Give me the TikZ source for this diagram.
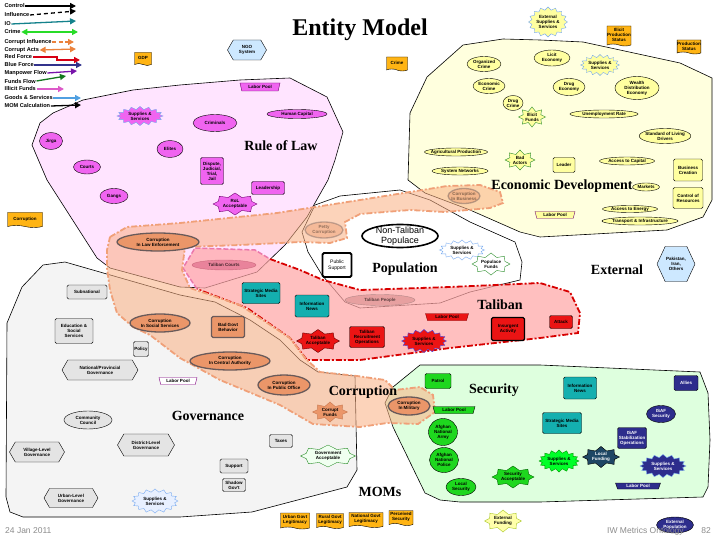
\documentclass[tikz,border=0pt]{standalone}
\usepackage{fontspec}
\setmainfont{Liberation Serif}
\newfontfamily\sansfam{Liberation Sans}
\usetikzlibrary{shapes.geometric,shapes.symbols,shapes.misc,arrows.meta}
\newcommand\nodefnt{\sansfam\bfseries\fontsize{4.5}{5}\selectfont}
\newcommand\legfnt{\sansfam\bfseries\fontsize{5.6}{6}\selectfont}
\newcommand\titfnt{\rmfamily\bfseries\fontsize{14}{16}\selectfont}
\definecolor{rolfill}{RGB}{255,228,255}
\definecolor{rolnode}{RGB}{240,100,240}
\definecolor{rolbd}{RGB}{110,0,110}
\definecolor{ecofill}{RGB}{255,255,222}
\definecolor{econode}{RGB}{255,255,160}
\definecolor{govfill}{RGB}{244,244,244}
\definecolor{govnode}{RGB}{228,228,228}
\definecolor{govss}{RGB}{232,240,255}
\definecolor{govacc}{RGB}{240,255,240}
\definecolor{secfill}{RGB}{222,255,222}
\definecolor{secnode}{RGB}{30,215,30}
\definecolor{brightgreen}{RGB}{0,255,40}
\definecolor{lfund}{RGB}{30,70,100}
\definecolor{talfill}{RGB}{255,165,165}
\definecolor{talnode}{RGB}{235,20,20}
\definecolor{talcourt}{RGB}{225,110,140}
\definecolor{talcourtbd}{RGB}{190,90,110}
\definecolor{talpeople}{RGB}{215,140,140}
\definecolor{talpeoplebd}{RGB}{140,110,110}
\definecolor{tallinecol}{RGB}{215,0,0}
\definecolor{courtlinecol}{RGB}{235,120,170}
\definecolor{corfill}{RGB}{250,175,130}
\definecolor{corlinecol}{RGB}{240,160,120}
\definecolor{cornode}{RGB}{235,150,105}
\definecolor{corbd}{RGB}{105,90,90}
\definecolor{corstar}{RGB}{200,120,80}
\definecolor{tealn}{RGB}{20,175,175}
\definecolor{navyn}{RGB}{45,45,140}
\definecolor{docor}{RGB}{255,180,20}
\definecolor{hexblue}{RGB}{205,232,255}
\definecolor{sbblue}{RGB}{120,170,240}
\definecolor{sbblue2}{RGB}{70,70,230}
\definecolor{stgreen}{RGB}{40,140,40}
\definecolor{stgreen2}{RGB}{170,200,40}
\definecolor{extfund}{RGB}{255,255,170}
\definecolor{lgteal}{RGB}{20,130,140}
\definecolor{lggreen}{RGB}{40,220,40}
\definecolor{lgorange}{RGB}{235,130,60}
\definecolor{lgred}{RGB}{215,0,20}
\definecolor{lgblue}{RGB}{50,50,140}
\definecolor{lgpurple}{RGB}{120,20,170}
\definecolor{lgdkgreen}{RGB}{20,120,30}
\definecolor{lgpink}{RGB}{220,90,200}
\definecolor{lgltblue}{RGB}{80,160,225}
\tikzset{
  base/.style={draw, inner sep=0pt, align=center, font=\nodefnt},
  ell/.style={base, ellipse, inner sep=-1.5pt},
  lell/.style={base, ellipse, inner xsep=-8pt, inner ysep=-1.5pt},
  rbox/.style={base, rectangle, rounded corners=1.5pt},
  hexa/.style={base, signal, signal to=east and west, signal pointer angle=120},
  sburst/.style={base, starburst, starburst points=16, starburst point height=3pt, random starburst=0},
  estar/.style={base, starburst, starburst points=8, starburst point height=4pt, random starburst=0},
  trap/.style={base, trapezium, trapezium left angle=70, trapezium right angle=70, shape border rotate=180, trapezium stretches=true},
  docu/.style={base, tape, tape bend top=none, tape bend bottom=out and in, tape bend height=2pt, fill=docor},
  corell/.style={ell, fill=cornode, draw=corbd, line width=1.3pt},
  ttl/.style={font=\titfnt, inner sep=0pt},
  sz/.style 2 args={minimum width=#1pt, minimum height=#2pt},
  lg/.style={font=\legfnt, anchor=west, inner sep=0.5pt},
  legarr/.style={line width=1.3pt, -{Triangle[length=6pt,width=6pt]}},
  legdbl/.style={line width=1.3pt, {Triangle[length=6pt,width=6pt]}-{Triangle[length=6pt,width=6pt]}},
  foot/.style={font=\sansfam\fontsize{8.5}{9}\selectfont, text=black!45, inner sep=0pt},
  regionline/.style={draw=black, line width=0.6pt},
  talborder/.style={draw=tallinecol, line width=1.8pt, dash pattern=on 6pt off 2pt on 2pt off 2pt},
  courtborder/.style={draw=courtlinecol, line width=1.5pt, dash pattern=on 5pt off 2pt},
  corborder/.style={draw=corlinecol, line width=1.8pt, dash pattern=on 6pt off 2pt on 2pt off 2pt},
}
\begin{document}
\begin{tikzpicture}[x=1pt,y=-1pt]
\fill[white] (0,0) rectangle (720,540);
\useasboundingbox (0,0) rectangle (720,540);

% ---------- regions ----------
\draw[regionline, fill=ecofill] (408,180) -- (410,113) -- (427,77) -- (463,45) -- (503,39) -- (540,40) -- (583,42) -- (680,63) -- (712,78) -- (712,200) -- (703,217) -- (667,230) -- (540,237) -- (520,232) -- (470,210) -- (425,193) -- cycle;
\draw[regionline, fill=rolfill] (32,145) -- (40,123) -- (53,113) -- (83,100) -- (133,90) -- (180,85) -- (240,80) -- (290,78) -- (327,97) -- (343,132) -- (335,160) -- (328,180) -- (307,217) -- (285,245) -- (257,272) -- (205,288) -- (180,287) -- (110,268) -- (97,258) -- (47,180) -- cycle;
\draw[regionline, fill=govfill] (43,265) -- (65,262) -- (180,295) -- (215,302) -- (250,320) -- (280,340) -- (300,360) -- (318,372) -- (355,376) -- (357,470) -- (347,487) -- (252,512) -- (180,517) -- (23,517) -- (10,512) -- (6,497) -- (7,323) -- (22,287) -- cycle;
\draw[regionline, fill=secfill] (420,365) -- (540,365) -- (700,372) -- (708,393) -- (710,440) -- (708,487) -- (703,497) -- (540,502) -- (460,502) -- (440,500) -- (425,493) -- (393,427) -- (385,403) -- (393,387) -- cycle;
\draw[regionline, fill=white] (302,232) -- (315,205) -- (340,196) -- (400,190) -- (430,200) -- (470,222) -- (515,242) -- (522,262) -- (520,280) -- (470,292) -- (440,303) -- (360,308) -- (345,302) -- (322,275) -- (308,252) -- cycle;
\fill[talfill, fill opacity=0.7] (183,268) -- (195,248) -- (255,250) -- (270,259) -- (300,270) -- (323,280) -- (360,290) -- (450,287) -- (540,283) -- (570,292) -- (580,313) -- (578,333) -- (540,338) -- (450,348) -- (360,360) -- (307,360) -- (290,338) -- (247,308) -- (197,289) -- cycle;
\draw[talborder] (270,259) -- (300,270) -- (323,280) -- (360,290) -- (450,287) -- (540,283) -- (570,292) -- (580,313) -- (578,333) -- (540,338) -- (450,348) -- (360,360) -- (307,360) -- (290,338) -- (247,308) -- (197,289);
\draw[courtborder] (197,289) -- (183,268) -- (195,248) -- (255,250) -- (270,259);
\draw[corborder, fill=corfill, fill opacity=0.55] (110,237) -- (127,227) -- (180,223) -- (277,213) -- (360,200) -- (410,192) -- (447,186) -- (480,185) -- (500,192) -- (503,203) -- (490,208) -- (445,212) -- (410,210) -- (360,214) -- (345,222) -- (347,238) -- (330,243) -- (300,242) -- (240,245) -- (185,247) -- (182,270) -- (190,288) -- (240,305) -- (290,338) -- (305,358) -- (320,372) -- (357,376) -- (385,380) -- (395,390) -- (420,387) -- (433,395) -- (435,412) -- (418,424) -- (387,423) -- (360,427) -- (313,424) -- (280,405) -- (220,380) -- (180,358) -- (150,335) -- (133,327) -- (117,313) -- (110,290) -- (107,268) -- (107,250) -- cycle;

% ---------- titles ----------
\node[ttl, font=\rmfamily\bfseries\fontsize{24}{26}\selectfont] (tEntity) at (360,30) {Entity Model};
\node[ttl] (tRoL) at (281,146) {Rule of Law};
\node[ttl] (tEco) at (562,186) {Economic Development};
\node[ttl] (tPop) at (405,269) {Population};
\node[ttl] (tTal) at (500,305) {Taliban};
\node[ttl] (tExt) at (617,270) {External};
\node[ttl] (tCor) at (363,392) {Corruption};
\node[ttl] (tSec) at (494,390) {Security};
\node[ttl] (tGov) at (208,416) {Governance};
\node[ttl] (tMom) at (380,492) {MOMs};

% ---------- rule of law ----------
\node[trap, sz={40}{8}, fill=rolnode, draw=rolbd] (rolLabor) at (260,87) {Labor Pool};
\node[sburst, sz={46}{19}, fill=rolnode, draw=sbblue] (rolSS) at (140,116) {Supplies \&\\Services};
\node[lell, sz={60}{9}, fill=rolnode] (rolHC) at (297,114) {Human Capital};
\node[ell, sz={44}{17}, fill=rolnode] (rolCrim) at (215,123) {Criminals};
\node[ell, sz={23}{17}, fill=rolnode] (rolJirga) at (51,141) {Jirga};
\node[ell, sz={26}{17}, fill=rolnode] (rolElites) at (170,149) {Elites};
\node[ell, sz={27}{14}, fill=rolnode] (rolCourts) at (87,167) {Courts};
\node[rbox, sz={23}{27}, fill=rolnode] (rolDJ) at (212,171) {Dispute,\\Judicial,\\Trial,\\Jail};
\node[rbox, sz={33}{13}, fill=rolnode] (rolLead) at (268,188) {Leadership};
\node[ell, sz={28}{15}, fill=rolnode] (rolGangs) at (114,196) {Gangs};
\node[estar, sz={44}{22}, fill=rolnode, draw=rolbd] (rolAcc) at (235,204) {RoL\\Acceptable};

% ---------- economic development ----------
\node[ell, sz={34}{15}, fill=econode] (ecoOrg) at (484,64) {Organized\\Crime};
\node[ell, sz={32}{15}, fill=econode] (ecoEcon) at (489,86) {Economic\\Crime};
\node[ell, sz={20}{15}, fill=econode] (ecoDrug) at (513,103) {Drug\\Crime};
\node[estar, sz={25}{20}, fill=econode, draw=stgreen] (ecoIF) at (532,117) {Illicit\\Funds};
\node[ell, sz={36}{16}, fill=econode] (ecoLicit) at (552,58) {Licit\\Economy};
\node[ell, sz={32}{17}, fill=econode] (ecoDrugE) at (569,87) {Drug\\Economy};
\node[sburst, sz={36}{21}, fill=econode, draw=sbblue] (ecoSS) at (600,65) {Supplies \&\\Services};
\node[ell, sz={44}{23}, fill=econode] (ecoWealth) at (637,88) {Wealth\\Distribution\\Economy};
\node[lell, sz={68}{8}, fill=econode] (ecoUnemp) at (604,114) {Unemployment Rate};
\node[ell, sz={46}{15}, fill=econode] (ecoStd) at (665,136) {Standard of Living\\Drivers};
\node[lell, sz={63}{8}, fill=econode] (ecoAgri) at (456,152) {Agricultural Production};
\node[lell, sz={56}{8}, fill=econode] (ecoSys) at (460,171) {System Networks};
\node[estar, sz={30}{20}, fill=econode, draw=stgreen] (ecoBad) at (520,160) {Bad\\Actors};
\node[rbox, sz={22}{15}, fill=econode] (ecoLeader) at (564,165) {Leader};
\node[lell, sz={55}{8}, fill=econode] (ecoCap) at (627,161) {Access to Capital};
\node[rbox, sz={29}{22}, fill=econode] (ecoBus) at (688,170) {Business\\Creation};
\node[lell, sz={27}{8}, fill=econode] (ecoMkt) at (646,187) {Markets};
\node[rbox, sz={30}{21}, fill=econode] (ecoCtrl) at (688,198) {Control of\\Resources};
\node[lell, sz={55}{7}, fill=econode] (ecoEnergy) at (630,209) {Access to Energy};
\node[lell, sz={76}{8}, fill=econode] (ecoInfra) at (640,221) {Transport \& Infrastructure};
\node[trap, sz={40}{7}, fill=econode, draw=rolbd] (ecoLabor) at (555,215) {Labor Pool};
\node[corell, sz={32}{15}, opacity=0.45] (ecoCorB) at (464,196) {Corruption\\In Business};

% ---------- population ----------
\node[ell, sz={76}{23}, fill=white, line width=1.6pt, font=\sansfam\fontsize{9}{10}\selectfont] (popNT) at (400,236) {Non-Taliban\\Populace};
\node[sburst, sz={45}{20}, fill=white, draw=sbblue] (popSS) at (462,250) {Supplies \&\\Services};
\node[estar, sz={38}{22}, fill=white, draw=stgreen] (popFunds) at (491,264) {Populace\\Funds};
\node[rbox, sz={29}{24}, fill=white, line width=1.8pt, font=\sansfam\fontsize{5}{6}\selectfont] (popPub) at (337,265) {Public\\Support};
\node[corell, sz={38}{16}, opacity=0.4] (popPetty) at (324,230) {Petty\\Corruption};

% ---------- taliban ----------
\node[lell, sz={64}{10}, fill=talcourt, draw=talcourtbd, opacity=0.7] (talCourts) at (224,265) {Taliban Courts};
\node[lell, sz={70}{11}, fill=talpeople, draw=talpeoplebd, opacity=0.6] (talPeople) at (380,300) {Taliban People};
\node[trap, sz={43}{7}, fill=talnode, draw=red!50!black] (talLabor) at (447,317) {Labor Pool};
\node[rbox, sz={33}{23}, fill=talnode, line width=1.3pt] (talIns) at (508,329) {Insurgent\\Activity};
\node[rbox, sz={23}{13}, fill=talnode] (talAtt) at (561,322) {Attack};
\node[rbox, sz={35}{21}, fill=talnode] (talRec) at (367,337) {Taliban\\Recruitment\\Operations};
\node[sburst, sz={45}{23}, fill=talnode, draw=sbblue2] (talSS) at (424,341) {Supplies \&\\Services};
\node[estar, sz={43}{23}, fill=talnode, draw=red!40!black] (talAcc) at (318,341) {Taliban\\Acceptable};
\node[rbox, sz={38}{21}, fill=tealn] (talMedia) at (261,293) {Strategic Media\\Sites};
\node[rbox, sz={34}{22}, fill=tealn] (talInfo) at (312,306) {Information\\News};

% ---------- corruption ----------
\node[corell, sz={82}{18}] (corLE) at (158,242) {Corruption\\In Law Enforcement};
\node[corell, sz={60}{18}] (corSS) at (160,323) {Corruption\\In Social Services};
\node[rbox, sz={33}{21}, fill=cornode, draw=corbd, line width=1.3pt] (corBad) at (228,327) {Bad Govt\\Behavior};
\node[corell, sz={80}{18}] (corCA) at (230,361) {Corruption\\In Central Authority};
\node[corell, sz={52}{20}] (corPO) at (284,385) {Corruption\\In Public Office};
\node[estar, sz={35}{20}, fill=cornode, draw=corstar] (corFunds) at (330,412) {Corrupt\\Funds};
\node[corell, sz={42}{18}] (corMil) at (409,406) {Corruption\\In Military};

% ---------- governance ----------
\node[rbox, sz={40}{14}, fill=govnode] (govSub) at (87,292) {Subnational};
\node[rbox, sz={38}{25}, fill=govnode] (govEdu) at (74,331) {Education \&\\Social\\Services};
\node[rbox, sz={15}{15}, fill=govnode] (govPol) at (141,349) {Policy};
\node[hexa, sz={76}{20}, fill=govnode] (govNP) at (100,370) {National/Provincial\\Governance};
\node[trap, sz={38}{7}, fill=white, draw=violet] (govLabor) at (178,381) {Labor Pool};
\node[ell, sz={48}{18}, fill=govnode] (govCC) at (88,420) {Community\\Council};
\node[hexa, sz={57}{22}, fill=govnode] (govDist) at (146,445) {District-Level\\Governance};
\node[hexa, sz={55}{20}, fill=govnode] (govVil) at (37,452) {Village-Level\\Governance};
\node[hexa, sz={54}{19}, fill=govnode] (govUrb) at (71,498) {Urban-Level\\Governance};
\node[sburst, sz={46}{24}, fill=govss, draw=sbblue] (govSS) at (155,501) {Supplies \&\\Services};
\node[rbox, sz={23}{13}, fill=govnode] (govTax) at (281,441) {Taxes};
\node[estar, sz={55}{22}, fill=govacc, draw=stgreen] (govAcc) at (328,456) {Government\\Acceptable};
\node[rbox, sz={28}{14}, fill=govnode] (govSup) at (234,466) {Support};
\node[rbox, sz={23}{13}, fill=govnode] (govShadow) at (234,485) {Shadow\\Gov't};

% ---------- security ----------
\node[rbox, sz={26}{15}, fill=secnode] (secPat) at (438,381) {Patrol};
\node[trap, sz={42}{7}, fill=secnode, draw=black] (secLabor) at (454,410) {Labor Pool};
\node[ell, sz={29}{27}, fill=secnode] (secANA) at (443,432) {Afghan\\National\\Army};
\node[ell, sz={29}{25}, fill=secnode] (secANP) at (444,460) {Afghan\\National\\Police};
\node[ell, sz={30}{17}, fill=secnode] (secLoc) at (461,487) {Local\\Security};
\node[estar, sz={42}{22}, fill=secnode, draw=green!40!black] (secAcc) at (513,477) {Security\\Acceptable};
\node[sburst, sz={40}{22}, fill=brightgreen, draw=green!60!black] (secSS) at (559,461) {Supplies \&\\Services};
\node[estar, sz={37}{20}, fill=lfund, draw=black, text=white] (secLF) at (601,457) {Local\\Funding};
\node[rbox, sz={39}{21}, fill=tealn] (secMedia) at (562,423) {Strategic Media\\Sites};
\node[rbox, sz={33}{22}, fill=tealn] (secInfo) at (580,388) {Information\\News};
\node[rbox, sz={24}{15}, fill=navyn, text=white] (secAllies) at (686,383) {Allies};
\node[ell, sz={29}{17}, fill=navyn, text=white] (secISAF) at (661,414) {ISAF\\Security};
\node[rbox, sz={29}{21}, fill=navyn, text=white] (secISAFOp) at (632,438) {ISAF\\Stabilization\\Operations};
\node[sburst, sz={46}{23}, fill=navyn, draw=sbblue, text=white] (secSS2) at (663,466) {Supplies \&\\Services};
\node[trap, sz={45}{6}, fill=navyn, draw=black, text=white] (secLabor2) at (638,486) {Labor Pool};

% ---------- outside ----------
\node[docu, sz={17}{13}] (docGDP) at (143,58) {GDP};
\node[hexa, sz={39}{20}, fill=hexblue] (ngo) at (247,50) {NGO\\System};
\node[docu, sz={21}{14}] (docCrime) at (397,63) {Crime};
\node[sburst, sz={37}{30}, fill=econode, draw=sbblue] (extSS) at (548,22) {External\\Supplies \&\\Services};
\node[docu, sz={24}{20}] (docIll) at (619,35) {Illicit\\Production\\Status};
\node[docu, sz={23}{14}] (docProd) at (689,46) {Production\\Status};
\node[docu, sz={35}{15}] (docCorr) at (25,219) {Corruption};
\node[hexa, sz={38}{35}, fill=hexblue, signal pointer angle=130] (extHex) at (676,264) {Pakistan,\\Iran,\\Others};

\node[docu, sz={29}{16}] (momUrb) at (295,520) {Urban Govt\\Legitimacy};
\node[docu, sz={27}{15}] (momRur) at (330,520) {Rural Govt\\Legitimacy};
\node[docu, sz={34}{15}] (momNat) at (366,519) {National Govt\\Legitimacy};
\node[docu, sz={24}{15}] (momPer) at (401,517) {Perceived\\Security};
\node[estar, sz={37}{22}, fill=extfund, draw=stgreen2] (extFund) at (503,521) {External\\Funding};
\node[ell, sz={37}{16}, fill=navyn, text=white] (extPop) at (675,525) {External\\Population};

\node[foot, anchor=west] (fDate) at (5,531) {24 Jan 2011};
\node[foot, anchor=west] (fOnt) at (607,531) {IW Metrics Ontology};
\node[foot] (fPage) at (706,531) {82};

% ---------- legend ----------
\node[lg] (lgControl) at (4,6) {Control};
\node[lg] (lgInfl) at (4,15) {Influence};
\node[lg] (lgIO) at (4,24) {IO};
\node[lg] (lgCrime) at (4,32) {Crime};
\node[lg] (lgCI) at (4,42) {Corrupt Influence};
\node[lg] (lgCA) at (4,50) {Corrupt Acts};
\node[lg] (lgRed) at (4,57) {Red Force};
\node[lg] (lgBlue) at (4,65) {Blue Force};
\node[lg] (lgMan) at (4,73) {Manpower Flow};
\node[lg] (lgFunds) at (4,81) {Funds Flow};
\node[lg] (lgIll) at (4,89) {Illicit Funds};
\node[lg] (lgGoods) at (4,98) {Goods \& Services};
\node[lg] (lgMOM) at (4,106) {MOM Calculation};

\coordinate (eControl) at (76,6);
\coordinate (eInfl) at (76,11);
\coordinate (eIO) at (76,21);
\coordinate (eCrime) at (78,32);
\coordinate (eCI) at (74,42);
\coordinate (eCA) at (76,49);
\coordinate (mRed) at (57,57);
\coordinate (eRed) at (80,60);
\coordinate (eBlue) at (82,65);
\coordinate (eMan) at (77,71);
\coordinate (eFunds) at (66,76);
\coordinate (eIll) at (64,89);
\coordinate (eGoods) at (81,98);
\coordinate (eMOM) at (81,105);

\draw[legarr, black] (lgControl.east) -- (eControl);
\draw[legarr, black, dash pattern=on 4pt off 3pt] (lgInfl.east) -- (eInfl);
\draw[legarr, lgteal] (lgIO.east) -- (eIO);
\draw[legdbl, lggreen] (lgCrime.east) -- (eCrime);
\draw[legarr, lgorange, dash pattern=on 4pt off 2.5pt] (lgCI.east) -- (eCI);
\draw[legdbl, lgorange] (lgCA.east) -- (eCA);
\draw[legarr, lgred] (lgRed.east) -- (mRed) |- (eRed);
\draw[legarr, lgblue] (lgBlue.east) -- (eBlue);
\draw[legarr, lgpurple] (lgMan.east) -- (eMan);
\draw[legarr, lgdkgreen] (lgFunds.east) -- (eFunds);
\draw[legarr, lgpink] (lgIll.east) -- (eIll);
\draw[legarr, lgltblue] (lgGoods.east) -- (eGoods);
\draw[legarr, black] (lgMOM.east) -- (eMOM);
\end{tikzpicture}
\end{document}
